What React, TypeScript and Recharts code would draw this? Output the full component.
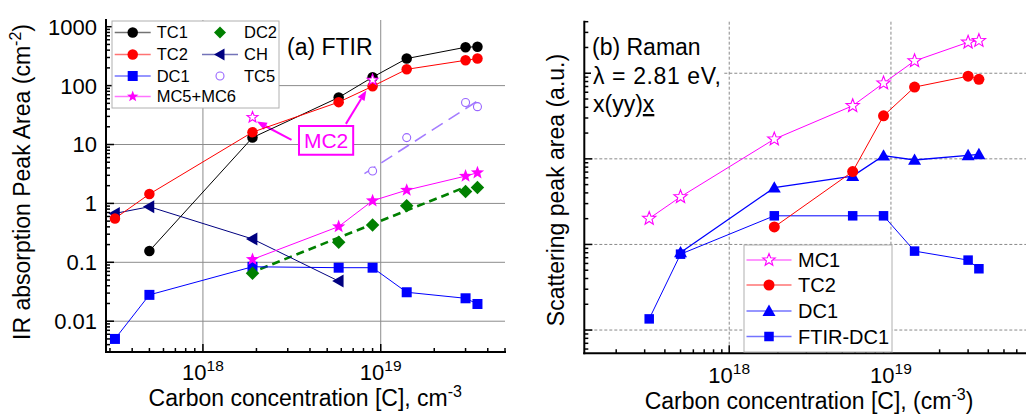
import React from 'react';
import { ComposedChart, Line, XAxis, YAxis, CartesianGrid, ReferenceLine, ReferenceArea } from 'recharts';

const FONT = '"Liberation Sans", Arial, Helvetica, sans-serif';

// carbon concentration of each sample, cm^-3
const concentration = [3.2e17, 5e17, 1.9e18, 5.8e18, 9e18, 1.4e19, 3.0e19, 3.5e19];

// (a) FTIR absorption peak areas, cm^-2 (null = band not seen)
const ftirTC1 = [null, 0.156, 13.1, 62.8, 139, 288, 448, 458];
const ftirTC2 = [0.556, 1.44, 16.2, 52.4, 97.4, 189, 269, 288];
const ftirDC1 = [0.005, 0.028, 0.084, 0.081, 0.081, 0.031, 0.0245, 0.0196];
const ftirDC2 = [null, null, 0.065, 0.219, 0.43, 0.913, 1.6, 1.87];
const ftirCH = [0.676, 0.878, 0.249, 0.048, null, null, null, null];
const ftirTC5 = [null, null, null, null, 3.54, 13.1, 51.6, 43.9];
const ftirMC56 = [null, null, 0.112, 0.404, 1.11, 1.68, 2.91, 3.32];
const ftirMC2 = [null, null, 29, null, 125, null, null, null];

// dashed power-law trends through DC2 and TC5
const dc2TrendX = [2.1e18, 3.0e19];
const dc2TrendY = [0.077, 1.9];
const tc5TrendX = [8.1e18, 3.7e19];
const tc5TrendY = [3.2, 61];

// MC2 call-out box and its two arrows (tail -> head)
const mc2BoxX = [3.47e18, 7.0e18];
const mc2BoxY = [6.67, 20.7];
const mc2TailX = [3.15e18, 6.37e18];
const mc2TailY = [12, 22.4];
const mc2HeadX = [2.01e18, 8.3e18];
const mc2HeadY = [24.5, 82.6];

// (b) Raman scattering peak areas, a.u.
const ramanMC1 = [20.1, 36, 170, 417, 766, 1393, 2300, 2400];
const ramanTC2 = [null, null, 16, 71, 318, 689, 923, 850];
const ramanDC1 = [null, 8.06, 46, 63, 109, 97, 110, 113];
const ramanFtirDC1 = [1.35, 7.7, 21.6, 21.6, 21.6, 8.36, 6.56, 5.2];

// axes
const xLabels = [1e18, 1e19];
const ftirXDomain = [2.85e17, 5e19];
const ftirYDomain = [0.003, 1300];
const ftirYLabels = [0.01, 0.1, 1, 10, 100, 1000];
const ftirYGrid = [0.01, 0.1, 1, 10, 100];
const ramanXDomain = [1.27e17, 7e19];
const ramanYDomain = [0.535, 4000];
const ramanYGrid = [1, 10, 100, 1000];

const GREEN = '#008000';
const NAVY = '#000080';
const MAGENTA = '#ff00ff';
const PURPLE = '#9966ff';

const toPoints = (vals: (number | null)[]) =>
  concentration.map((x, i) => ({ x, y: vals[i] })).filter((p) => p.y != null);
const zipPoints = (xs: number[], ys: number[]) => xs.map((x, i) => ({ x, y: ys[i] }));

const isDecade = (v: number) => Math.abs(Math.log10(v) - Math.round(Math.log10(v))) < 1e-6;
const same = (a: number, b: number) => Math.abs(a / b - 1) < 1e-6;

// 1..9 x 10^n ticks inside a log range
const logTicks = (lo: number, hi: number) => {
  const out: number[] = [];
  for (let e = Math.floor(Math.log10(lo)); e <= Math.ceil(Math.log10(hi)); e++) {
    for (let m = 1; m <= 9; m++) {
      const v = m * Math.pow(10, e);
      if (v >= lo * 0.999999 && v <= hi * 1.000001) out.push(v);
    }
  }
  return out;
};

type Kind = 'circle' | 'square' | 'diamond' | 'star' | 'up' | 'left';

const Mark = ({ kind, cx, cy, color, size, open }: { kind: Kind; cx: number; cy: number; color: string; size: number; open?: boolean }) => {
  if (cx == null || cy == null) return null;
  const r = size / 2;
  const paint = open
    ? { fill: '#fff', stroke: color, strokeWidth: 1.1 }
    : { fill: color, stroke: 'none' };
  switch (kind) {
    case 'circle':
      return <circle cx={cx} cy={cy} r={r} {...paint} />;
    case 'square':
      return <rect x={cx - r} y={cy - r} width={size} height={size} {...paint} />;
    case 'diamond':
      return <polygon points={`${cx},${cy - r} ${cx + r},${cy} ${cx},${cy + r} ${cx - r},${cy}`} {...paint} />;
    case 'up':
      return <polygon points={`${cx},${cy - r} ${cx + r},${cy + r * 0.75} ${cx - r},${cy + r * 0.75}`} {...paint} />;
    case 'left':
      return <polygon points={`${cx - r},${cy} ${cx + r * 0.75},${cy - r} ${cx + r * 0.75},${cy + r}`} {...paint} />;
    case 'star': {
      const pts: string[] = [];
      for (let k = 0; k < 10; k++) {
        const rad = k % 2 === 0 ? r : r * 0.42;
        const a = -Math.PI / 2 + (k * Math.PI) / 5;
        pts.push(`${cx + rad * Math.cos(a)},${cy + rad * Math.sin(a)}`);
      }
      return <polygon points={pts.join(' ')} {...paint} />;
    }
  }
  return null;
};

const dotOf = (name: string, kind: Kind, color: string, size: number, open?: boolean) => (p: any) => (
  <Mark key={`${name}-${p.index}`} kind={kind} cx={p.cx} cy={p.cy} color={color} size={size} open={open} />
);

// inward tick marks; labels only where a label value is given
const BottomTick = (props: any) => {
  const { x, y, payload, labels, dy } = props;
  const major = isDecade(payload.value);
  const lab = (labels as number[]).find((l) => same(l, payload.value));
  return (
    <g>
      <line x1={x} x2={x} y1={y} y2={y - (major ? 8 : 4)} stroke="#000" strokeWidth={1.5} />
      {lab !== undefined && (
        <text x={x} y={y + dy} textAnchor="middle" fontSize={22} fontFamily={FONT} fill="#000">
          10<tspan dy={-9} fontSize={15.5}>{Math.round(Math.log10(lab))}</tspan>
        </text>
      )}
    </g>
  );
};

const TopTick = (props: any) => {
  const { x, y, payload } = props;
  const major = isDecade(payload.value);
  return <line x1={x} x2={x} y1={y} y2={y + (major ? 8 : 4)} stroke="#000" strokeWidth={1.5} />;
};

const LeftTick = (props: any) => {
  const { x, y, payload, labels } = props;
  const major = isDecade(payload.value);
  const lab = (labels as number[]).find((l) => same(l, payload.value));
  return (
    <g>
      <line x1={x} x2={x + (major ? 8 : 4)} y1={y} y2={y} stroke="#000" strokeWidth={1.5} />
      {lab !== undefined && (
        <text x={x - 9} y={y} dy="0.36em" textAnchor="end" fontSize={22} fontFamily={FONT} fill="#000">
          {String(lab)}
        </text>
      )}
    </g>
  );
};

const RightTick = (props: any) => {
  const { x, y, payload } = props;
  const major = isDecade(payload.value);
  return <line x1={x} x2={x - (major ? 8 : 4)} y1={y} y2={y} stroke="#000" strokeWidth={1.5} />;
};

const Arrow = (props: any) => {
  const { x1, y1, x2, y2 } = props;
  const a = Math.atan2(y2 - y1, x2 - x1);
  const len = 10;
  const w = 4;
  const bx = x2 - len * Math.cos(a);
  const by = y2 - len * Math.sin(a);
  const px = -Math.sin(a) * w;
  const py = Math.cos(a) * w;
  return (
    <g>
      <line x1={x1} y1={y1} x2={bx} y2={by} stroke={MAGENTA} strokeWidth={2} />
      <polygon points={`${x2},${y2} ${bx + px},${by + py} ${bx - px},${by - py}`} fill={MAGENTA} />
    </g>
  );
};

const frame = { stroke: '#000', strokeWidth: 2, strokeLinecap: 'square' as const };

type Series = { name: string; values: (number | null)[]; kind: Kind; color: string; size: number; open?: boolean; line?: boolean; width?: number };

const ftirSeries: Series[] = [
  { name: 'DC1', values: ftirDC1, kind: 'square', color: '#0000ff', size: 10, line: true },
  { name: 'CH', values: ftirCH, kind: 'left', color: NAVY, size: 13, line: true },
  { name: 'DC2', values: ftirDC2, kind: 'diamond', color: GREEN, size: 13.5 },
  { name: 'MC5+MC6', values: ftirMC56, kind: 'star', color: MAGENTA, size: 14, line: true },
  { name: 'TC5', values: ftirTC5, kind: 'circle', color: PURPLE, size: 8, open: true },
  { name: 'TC1', values: ftirTC1, kind: 'circle', color: '#000', size: 10.5, line: true },
  { name: 'TC2', values: ftirTC2, kind: 'circle', color: '#ff0000', size: 10.5, line: true },
  { name: 'MC2', values: ftirMC2, kind: 'star', color: MAGENTA, size: 11.5, open: true },
];

const ramanSeries: Series[] = [
  { name: 'FTIR-DC1', values: ramanFtirDC1, kind: 'square', color: '#0000ff', size: 9.5, line: true },
  { name: 'DC1', values: ramanDC1, kind: 'up', color: '#0000ff', size: 13, line: true, width: 1.3 },
  { name: 'TC2', values: ramanTC2, kind: 'circle', color: '#ff0000', size: 11, line: true },
  { name: 'MC1', values: ramanMC1, kind: 'star', color: MAGENTA, size: 14, open: true, line: true },
];

const renderSeries = (list: Series[]) =>
  list.map((s) => (
    <Line
      key={s.name}
      xAxisId="b"
      yAxisId="l"
      data={toPoints(s.values)}
      dataKey="y"
      type="linear"
      stroke={s.line ? s.color : 'none'}
      strokeWidth={s.width ?? 1}
      dot={dotOf(s.name, s.kind, s.color, s.size, s.open)}
      activeDot={false}
      isAnimationActive={false}
    />
  ));

const axes = (xDomain: number[], yDomain: number[], left: number, bottom: number, yLabels: number[], tickDy: number) => {
  const xt = logTicks(xDomain[0], xDomain[1]);
  const yt = logTicks(yDomain[0], yDomain[1]);
  const common = { type: 'number' as const, scale: 'log' as const, allowDataOverflow: true, interval: 0, tickSize: 0, tickMargin: 0, axisLine: frame, tickLine: false };
  return [
    <XAxis key="xb" xAxisId="b" dataKey="x" domain={xDomain} ticks={xt} height={bottom} tick={<BottomTick labels={xLabels} dy={tickDy} />} {...common} />,
    <XAxis key="xt" xAxisId="t" dataKey="x" orientation="top" domain={xDomain} ticks={xt} height={0} tick={<TopTick />} {...common} />,
    <YAxis key="yl" yAxisId="l" domain={yDomain} ticks={yt} width={left} tick={<LeftTick labels={yLabels} />} {...common} />,
    <YAxis key="yr" yAxisId="r" orientation="right" domain={yDomain} ticks={yt} width={0} tick={<RightTick />} {...common} />,
  ];
};

function FtirPanel() {
  return (
    <ComposedChart width={520} height={414} margin={{ top: 20, right: 15, bottom: 0, left: 0 }}>
      <CartesianGrid xAxisId="b" yAxisId="l" stroke="#8c8c8c" strokeWidth={1} horizontalValues={ftirYGrid} verticalValues={xLabels} />
      {axes(ftirXDomain, ftirYDomain, 106, 62, ftirYLabels, 28)}
      <ReferenceArea xAxisId="b" yAxisId="l" x1={mc2BoxX[0]} x2={mc2BoxX[1]} y1={mc2BoxY[0]} y2={mc2BoxY[1]} fill="#fff" fillOpacity={1} stroke={MAGENTA} strokeWidth={2}
        label={{ value: 'MC2', position: 'center', fill: MAGENTA, fontSize: 21, fontFamily: FONT }} />
      {mc2TailX.map((_, i) => (
        <ReferenceLine key={`arrow-${i}`} xAxisId="b" yAxisId="l" segment={[{ x: mc2TailX[i], y: mc2TailY[i] }, { x: mc2HeadX[i], y: mc2HeadY[i] }]} shape={(p: any) => <Arrow {...p} />} />
      ))}
      <Line xAxisId="b" yAxisId="l" data={zipPoints(dc2TrendX, dc2TrendY)} dataKey="y" stroke={GREEN} strokeWidth={2.6} strokeDasharray="8 5" dot={false} activeDot={false} isAnimationActive={false} />
      <Line xAxisId="b" yAxisId="l" data={zipPoints(tc5TrendX, tc5TrendY)} dataKey="y" stroke="#a47cff" strokeWidth={1.6} strokeDasharray="13 7" dot={false} activeDot={false} isAnimationActive={false} />
      {renderSeries(ftirSeries)}
    </ComposedChart>
  );
}

function RamanPanel() {
  return (
    <ComposedChart width={510} height={414} margin={{ top: 21.7, right: 12.4, bottom: 0, left: 0 }}>
      <CartesianGrid xAxisId="b" yAxisId="l" stroke="#8a8a8a" strokeWidth={1} strokeDasharray="3 2" horizontalValues={ramanYGrid} verticalValues={xLabels} />
      {axes(ramanXDomain, ramanYDomain, 54.3, 60.7, [], 29.4)}
      {renderSeries(ramanSeries)}
    </ComposedChart>
  );
}

type LegendRow = { label: string; kind: Kind; color: string; size: number; open?: boolean; line?: boolean; col: number; row: number };

const ftirLegend: LegendRow[] = [
  { label: 'TC1', kind: 'circle', color: '#000', size: 10.5, line: true, col: 0, row: 0 },
  { label: 'TC2', kind: 'circle', color: '#ff0000', size: 10.5, line: true, col: 0, row: 1 },
  { label: 'DC1', kind: 'square', color: '#0000ff', size: 10, line: true, col: 0, row: 2 },
  { label: 'MC5+MC6', kind: 'star', color: MAGENTA, size: 12, line: true, col: 0, row: 3 },
  { label: 'DC2', kind: 'diamond', color: GREEN, size: 12, col: 1, row: 0 },
  { label: 'CH', kind: 'left', color: NAVY, size: 12, line: true, col: 1, row: 1 },
  { label: 'TC5', kind: 'circle', color: PURPLE, size: 8, open: true, col: 1, row: 2 },
];

const ramanLegend: LegendRow[] = [
  { label: 'MC1', kind: 'star', color: MAGENTA, size: 13, open: true, line: true, col: 0, row: 0 },
  { label: 'TC2', kind: 'circle', color: '#ff0000', size: 11, line: true, col: 0, row: 1 },
  { label: 'DC1', kind: 'up', color: '#0000ff', size: 13, line: true, col: 0, row: 2 },
  { label: 'FTIR-DC1', kind: 'square', color: '#0000ff', size: 9.5, line: true, col: 0, row: 3 },
];

const LegendBox = ({ rows, x, y, w, h, rowY, colX, lineHalf, textGap, fontSize }: any) => (
  <g transform={`translate(${x},${y})`}>
    <rect x={0} y={0} width={w} height={h} fill="#fff" stroke="#b0b0b0" strokeWidth={1} />
    {(rows as LegendRow[]).map((r) => {
      const cx = colX[r.col];
      const cy = rowY[r.row];
      return (
        <g key={r.label}>
          {r.line && <line x1={cx - lineHalf} x2={cx + lineHalf} y1={cy} y2={cy} stroke={r.color} strokeOpacity={0.55} strokeWidth={1.3} />}
          <Mark kind={r.kind} cx={cx} cy={cy} color={r.color} size={r.size} open={r.open} />
          <text x={cx + lineHalf + textGap} y={cy} dy="0.36em" fontSize={fontSize} fontFamily={FONT} fill="#000">{r.label}</text>
        </g>
      );
    })}
  </g>
);

function Annotations() {
  return (
    <svg width={1026} height={414} style={{ position: 'absolute', left: 0, top: 0, pointerEvents: 'none' }} fontFamily={FONT}>
      {/* panel (a) */}
      <text x={287} y={55} fontSize={23}>(a) FTIR</text>
      <LegendBox rows={ftirLegend} x={112} y={21} w={167} h={87} rowY={[11.5, 33.5, 55, 75.5]} colX={[20.7, 108]} lineHalf={18} textGap={6} fontSize={16.5} />
      <text x={305.3} y={406} fontSize={23} textAnchor="middle">
        Carbon concentration [C], cm<tspan dy={-9} fontSize={16}>-3</tspan>
      </text>
      <text x={30} y={182} fontSize={23} textAnchor="middle" transform="rotate(-90, 30, 182)">
        IR absorption Peak Area (cm<tspan dy={-9} fontSize={16}>-2</tspan><tspan dy={9}>)</tspan>
      </text>

      {/* panel (b) */}
      <rect x={591} y={31} width={132} height={90} fill="#fff" />
      <text x={592} y={55} fontSize={23}>(b) Raman</text>
      <text x={593} y={84} fontSize={23} textLength={128} lengthAdjust="spacing">λ = 2.81 eV,</text>
      <text x={593} y={112} fontSize={23}>x(yy)<tspan style={{ textDecoration: 'underline' }}>x</tspan></text>
      <LegendBox rows={ramanLegend} x={744} y={245} w={148} h={107} rowY={[15, 40, 66, 91.5]} colX={[25]} lineHalf={22.5} textGap={6.5} fontSize={20} />
      <text x={809} y={409} fontSize={23} textAnchor="middle">
        Carbon concentration [C], (cm<tspan dy={-9} fontSize={16}>-3</tspan><tspan dy={9}>)</tspan>
      </text>
      <text x={564} y={190} fontSize={23} textAnchor="middle" transform="rotate(-90, 564, 190)">
        Scattering peak area (a.u.)
      </text>
    </svg>
  );
}

export default function App() {
  return (
    <div style={{ position: 'absolute', left: 0, top: 0, width: 1026, height: 414, overflow: 'hidden', background: '#fff', fontFamily: FONT }}>
      <div style={{ position: 'absolute', left: 0, top: 0 }}>
        <FtirPanel />
      </div>
      <div style={{ position: 'absolute', left: 530, top: 0 }}>
        <RamanPanel />
      </div>
      <Annotations />
    </div>
  );
}
